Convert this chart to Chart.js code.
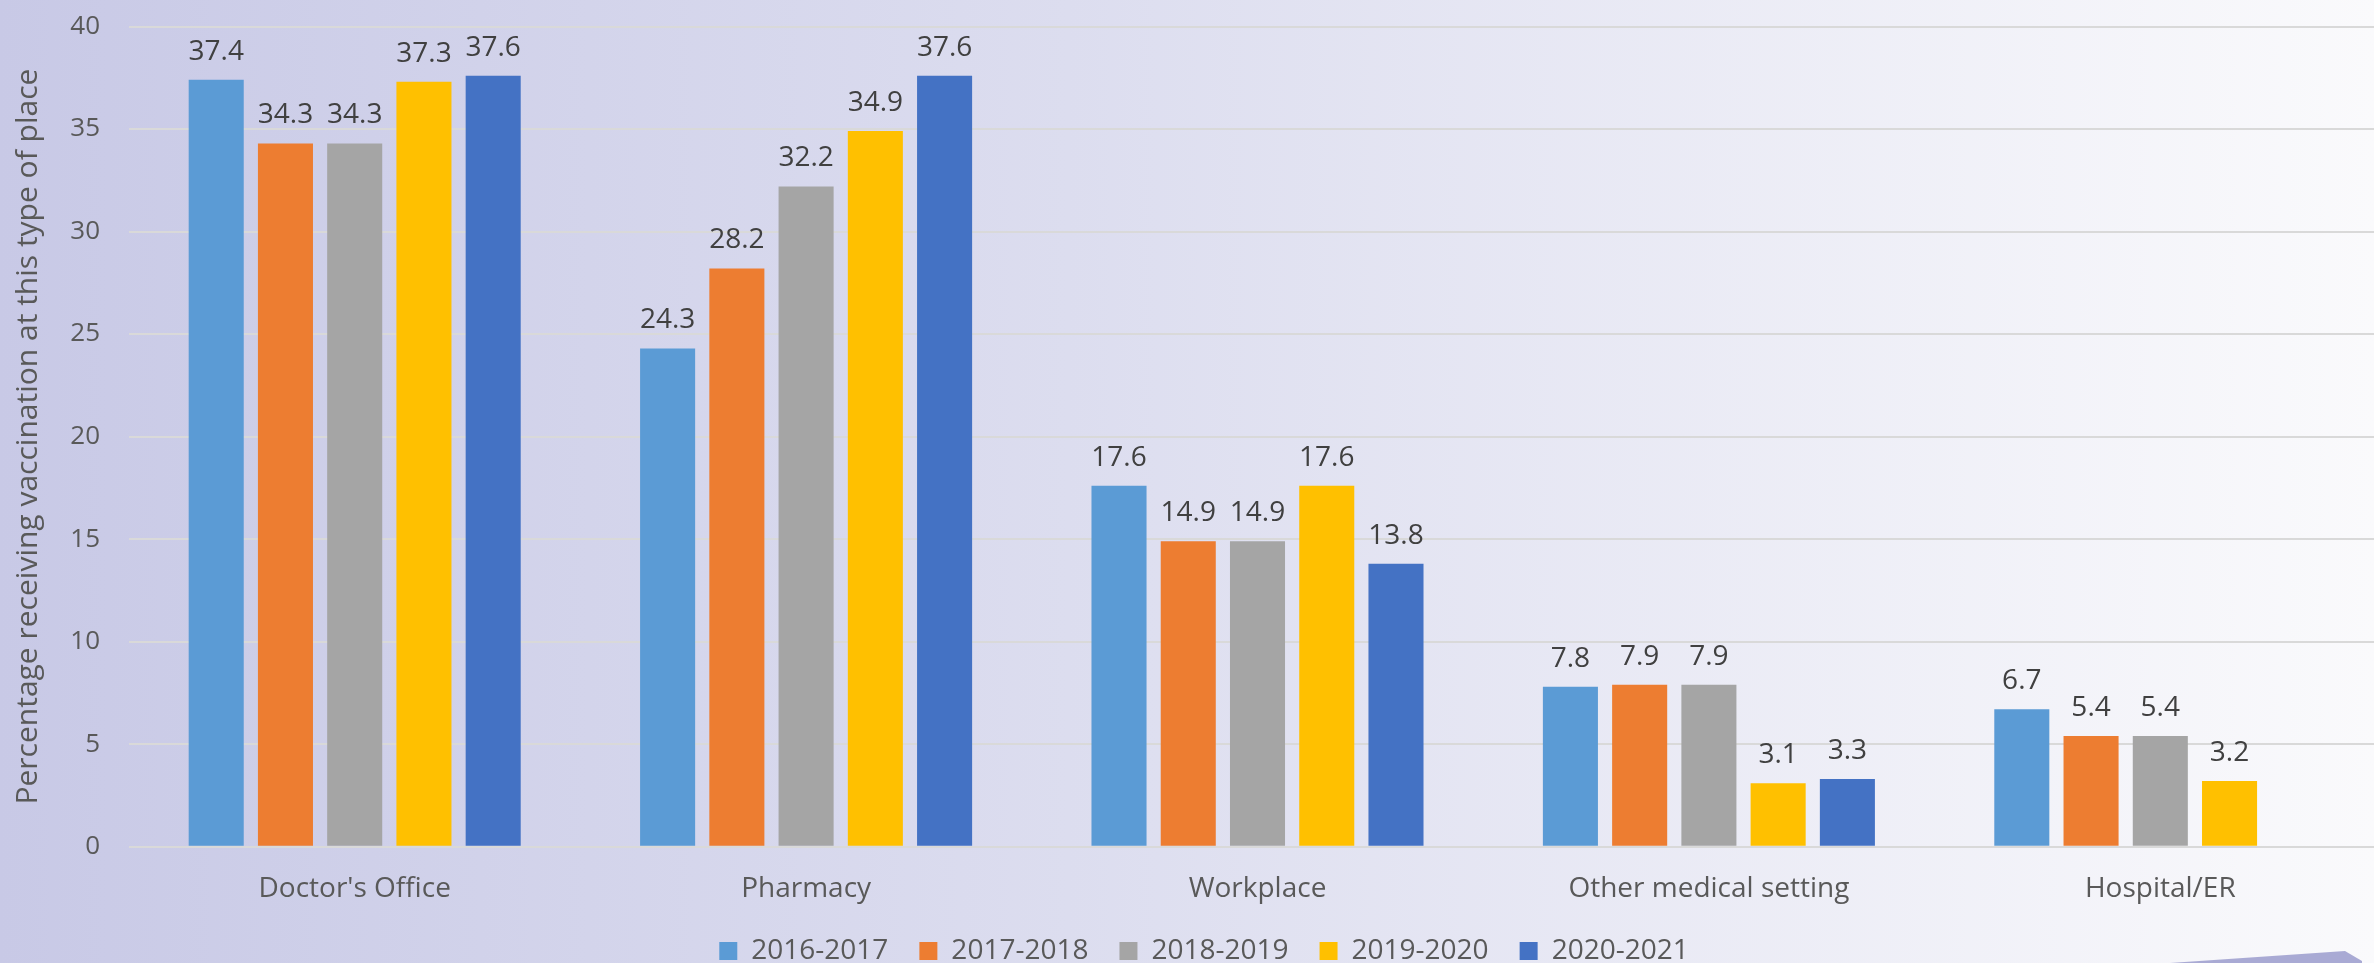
<!DOCTYPE html>
<html lang="en">
<head>
    <meta charset="UTF-8" />
    <title>Place of flu vaccination by season</title>
    <script src="https://cdn.jsdelivr.net/npm/chart.js"></script>
    <style>
        html, body { margin: 0; padding: 0; overflow: hidden; }
        body {
            width: 2374px; height: 963px;
            background: linear-gradient(to right, #c8c9e6 0%, #dcddef 45%, #fafafc 100%);
            font-family: 'Open Sans', sans-serif;
        }
        .chart-box { position: absolute; left: 0; top: 0; width: 2386px; height: 963px; }
        .corner-shape {
            position: absolute; left: 2160px; top: 945px; width: 210px; height: 18px;
            background: #a9aad4;
            clip-path: polygon(10px 18px, 185px 6px, 202px 16px, 202px 18px);
        }
    </style>
</head>
<body>
<div class="chart-box">
    <canvas id="placeChart"></canvas>
</div>
<div class="corner-shape"></div>
<script>
    const places = ["Doctor's Office", 'Pharmacy', 'Workplace', 'Other medical setting', 'Hospital/ER'];
    const seasons = ['2016-2017', '2017-2018', '2018-2019', '2019-2020', '2020-2021'];
    const colors = ['#5B9BD5', '#ED7D31', '#A5A5A5', '#FFC000', '#4472C4'];

    // one array per season, same order as places
    const s2016 = [37.4, 24.3, 17.6, 7.8, 6.7];
    const s2017 = [34.3, 28.2, 14.9, 7.9, 5.4];
    const s2018 = [34.3, 32.2, 14.9, 7.9, 5.4];
    const s2019 = [37.3, 34.9, 17.6, 3.1, 3.2];
    const s2020 = [37.6, 37.6, 13.8, 3.3, null];
    const seasonValues = [s2016, s2017, s2018, s2019, s2020];

    const yTicks = { min: 0, max: 40, step: 5 };
    const yTitle = 'Percentage receiving vaccination at this type of place';

    const textGray = '#595959';

    // value labels above each bar
    const barValues = {
        id: 'barValues',
        afterDatasetsDraw(chart) {
            const ctx = chart.ctx;
            ctx.save();
            ctx.font = '28px "Open Sans"';
            ctx.fillStyle = '#404040';
            ctx.textAlign = 'center';
            ctx.textBaseline = 'alphabetic';
            chart.data.datasets.forEach((ds, i) => {
                const meta = chart.getDatasetMeta(i);
                meta.data.forEach((bar, j) => {
                    const v = ds.data[j];
                    if (v === null || v === undefined) return;
                    ctx.fillText(v.toFixed(1), bar.x, bar.y - 20);
                });
            });
            ctx.restore();
        }
    };

    new Chart(document.getElementById('placeChart'), {
        type: 'bar',
        data: {
            labels: places,
            datasets: seasons.map((s, i) => ({
                label: s,
                data: seasonValues[i],
                backgroundColor: colors[i],
                borderWidth: 0,
                categoryPercentage: 0.767,
                barPercentage: 0.795
            }))
        },
        options: {
            responsive: true,
            maintainAspectRatio: false,
            animation: false,
            layout: { padding: { top: 26.5, right: 0, bottom: -12, left: 22 } },
            plugins: {
                tooltip: { enabled: false },
                legend: {
                    position: 'bottom',
                    labels: {
                        boxWidth: 18,
                        boxHeight: 18,
                        padding: 31,
                        color: textGray,
                        font: { family: 'Open Sans', size: 28 }
                    }
                }
            },
            scales: {
                x: {
                    grid: { display: false, drawTicks: false },
                    border: { display: false },
                    ticks: {
                        color: textGray,
                        padding: 25.7,
                        font: { family: 'Open Sans', size: 28 }
                    },
                    // fit() counts the padding twice, keep the band tight
                    afterFit(scale) { scale.height = 59.3; }
                },
                y: {
                    min: yTicks.min,
                    max: yTicks.max,
                    grid: {
                        color: '#d9d9d9',
                        lineWidth: 2,
                        drawTicks: true,
                        tickLength: 29,
                        tickColor: 'rgba(0,0,0,0)'
                    },
                    border: { display: false },
                    ticks: {
                        stepSize: yTicks.step,
                        color: textGray,
                        padding: 0,
                        font: { family: 'Open Sans', size: 26 }
                    },
                    title: {
                        display: true,
                        text: yTitle,
                        color: textGray,
                        padding: { top: -12, bottom: 0 },
                        font: { family: 'Open Sans', size: 30 }
                    },
                    afterFit(scale) { scale.width = 107; }
                }
            }
        },
        plugins: [barValues]
    });
</script>
</body>
</html>
